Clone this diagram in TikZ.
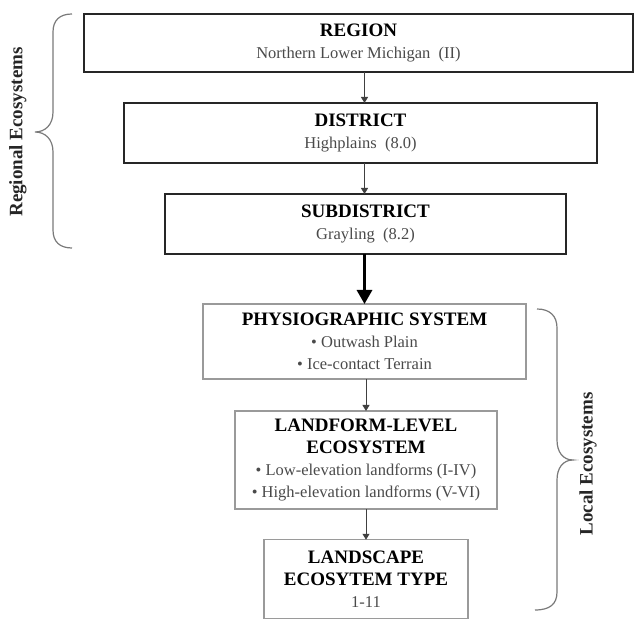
\documentclass[tikz,border=0pt]{standalone}
\usepackage{fontspec}
\setmainfont{Liberation Serif}
\usetikzlibrary{arrows.meta}
\definecolor{subtext}{HTML}{4A4A4A}
\definecolor{thinline}{HTML}{9A9A9A}
\definecolor{bracecol}{HTML}{7A7A7A}
\newcommand{\hd}[1]{{\fontsize{19}{22}\selectfont\bfseries\color{black}#1}}
\begin{document}
\begin{tikzpicture}[x=1pt,y=-1pt,
  box/.style={rectangle, align=center, inner sep=0pt, outer sep=0pt,
    font=\fontsize{16.5}{22}\selectfont, text=subtext},
  topbox/.style={box, draw=black!85, line width=2.6pt},
  lowbox/.style={box, draw=thinline, line width=1.4pt},
  smallarr/.style={draw=black!75, line width=0.9pt, -{Triangle[length=6pt,width=7pt]}},
  bigarr/.style={draw=black, line width=3pt, -{Triangle[length=14pt,width=15pt]}},
  bracestyle/.style={draw=bracecol, line width=1.2pt},
  sidelabel/.style={rotate=90, font=\fontsize{19}{22}\selectfont\bfseries, text=black!85}
]
\useasboundingbox (0,0) rectangle (635,620);

\node[topbox, minimum width=549pt, minimum height=58pt] (region) at (358.5,43)
  {\hd{REGION}\\Northern Lower Michigan\ \ (II)};
\node[topbox, minimum width=473pt, minimum height=60pt] (district) at (360.5,133)
  {\hd{DISTRICT}\\Highplains\ \ (8.0)};
\node[topbox, minimum width=401pt, minimum height=60pt] (subd) at (365.5,224)
  {\hd{SUBDISTRICT}\\Grayling\ \ (8.2)};
\node[lowbox, minimum width=323pt, minimum height=75pt] (physio) at (364.5,341.5)
  {\hd{PHYSIOGRAPHIC SYSTEM}\\\textbullet\ Outwash Plain\\\textbullet\ Ice-contact Terrain};
\node[lowbox, minimum width=262pt, minimum height=98pt] (landform) at (366,460)
  {\hd{LANDFORM-LEVEL}\\\hd{ECOSYSTEM}\\\textbullet\ Low-elevation landforms (I-IV)\\\textbullet\ High-elevation landforms (V-VI)};
\node[lowbox, minimum width=204pt, minimum height=78.5pt] (landscape) at (366,579)
  {\hd{LANDSCAPE}\\\hd{ECOSYTEM TYPE}\\1-11};

\draw[smallarr] (region.south -| physio.center) -- (district.north -| physio.center);
\draw[smallarr] (district.south -| physio.center) -- (subd.north -| physio.center);
\draw[bigarr] (subd.south -| physio.center) -- (physio.north);
\draw[smallarr] (physio.south -| landform.center) -- (landform.north);
\draw[smallarr] (landform.south) -- (landscape.north);

\draw[bracestyle] (72,14) .. controls (60,14) and (53,20) .. (53,32) -- (53,112)
  .. controls (53,125) and (45,132) .. (35,132)
  .. controls (45,132) and (53,139) .. (53,152) -- (53,230)
  .. controls (53,242) and (60,248) .. (72,248);
\draw[bracestyle] (537,309) .. controls (550,309) and (557,316) .. (557,328) -- (557,440)
  .. controls (557,452) and (563,460) .. (573,460)
  .. controls (563,460) and (557,468) .. (557,480) -- (557,592)
  .. controls (557,604) and (550,610) .. (535,610);

\node[sidelabel] (regional) at (18,132) {Regional Ecosystems};
\node[sidelabel] (local) at (588,464) {Local Ecosystems};
\end{tikzpicture}
\end{document}
